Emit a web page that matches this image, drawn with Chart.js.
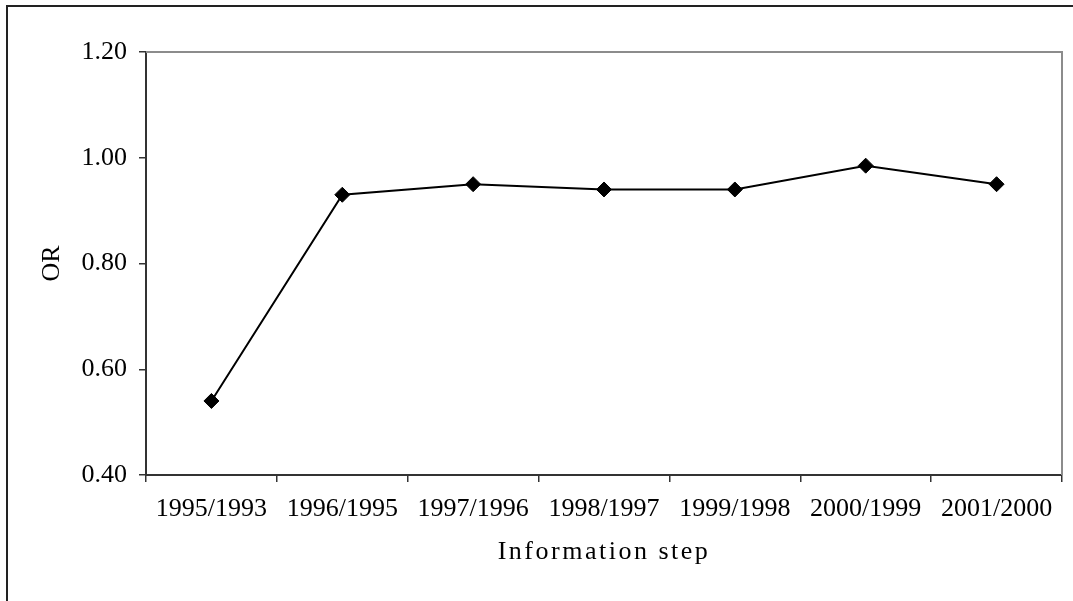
<!DOCTYPE html>
<html>
<head>
<meta charset="utf-8">
<script src="https://cdn.jsdelivr.net/npm/chart.js@4.4.1/dist/chart.umd.min.js"></script>
<style>
  html, body { margin: 0; padding: 0; background: #fff; overflow: hidden; }
  #frame { position: absolute; left: 6px; top: 5px; width: 1200px; height: 700px; border: 2px solid #222; box-sizing: border-box; }
  #wrap { position: absolute; left: 0; top: 0; width: 1073px; height: 601px; }
</style>
</head>
<body>
<div id="frame"></div>
<div id="wrap"><canvas id="c" width="1073" height="601"></canvas></div>
<script>
const categories = ["1995/1993", "1996/1995", "1997/1996", "1998/1997", "1999/1998", "2000/1999", "2001/2000"];
const orValues = [0.54, 0.93, 0.95, 0.94, 0.94, 0.985, 0.95];
const yTicks = [0.40, 0.60, 0.80, 1.00, 1.20];
const yTitle = "OR";
const xTitle = "Information step";

const FONT = "'Liberation Serif', 'Times New Roman', serif";

const plotBorder = {
  id: 'plotBorder',
  beforeDatasetsDraw(chart) {
    const {ctx, chartArea: a} = chart;
    ctx.save();
    ctx.strokeStyle = '#8c8c8c';
    ctx.lineWidth = 2;
    ctx.beginPath();
    ctx.moveTo(a.left, a.top);
    ctx.lineTo(a.right, a.top);
    ctx.lineTo(a.right, a.bottom);
    ctx.stroke();
    ctx.restore();
  },
  beforeDraw(chart) {
    const s = chart.scales.x;
    if (s && !s._spacedTitle) {
      const orig = s.drawTitle.bind(s);
      s.drawTitle = function () {
        chart.ctx.save();
        chart.ctx.letterSpacing = '2.5px';
        orig();
        chart.ctx.restore();
      };
      s._spacedTitle = true;
    }
  }
};

new Chart(document.getElementById('c'), {
  type: 'line',
  data: {
    labels: categories,
    datasets: [{
      data: orValues,
      borderColor: '#000',
      borderWidth: 2,
      pointStyle: 'rectRot',
      pointRadius: 7.5,
      pointBackgroundColor: '#000',
      pointBorderColor: '#000',
      pointBorderWidth: 1,
      tension: 0,
      fill: false
    }]
  },
  plugins: [plotBorder],
  options: {
    responsive: false,
    animation: false,
    events: [],
    layout: { padding: { left: 0, top: 52, right: 11, bottom: 0 } },
    plugins: { legend: { display: false }, tooltip: { enabled: false } },
    scales: {
      x: {
        type: 'category',
        offset: true,
        grid: { offset: true, drawOnChartArea: false, drawTicks: true, tickLength: 7, color: '#333', lineWidth: 1.5 },
        border: { display: true, color: '#333', width: 2 },
        ticks: { color: '#000', font: { family: FONT, size: 26 }, padding: 12, maxRotation: 0, autoSkip: false },
        title: { display: true, text: xTitle, color: '#000', font: { family: FONT, size: 26 }, padding: { top: 0, bottom: 33 } },
        afterFit(scale) { scale.height = 126; }
      },
      y: {
        min: 0.4,
        max: 1.2,
        afterBuildTicks(scale) { scale.ticks = yTicks.map(v => ({ value: v })); },
        grid: { drawOnChartArea: false, drawTicks: true, tickLength: 7, color: '#333', lineWidth: 1.5 },
        border: { display: true, color: '#333', width: 2 },
        ticks: { color: '#000', font: { family: FONT, size: 26 }, padding: 12, callback: v => Number(v).toFixed(2) },
        title: { display: true, text: yTitle, color: '#000', font: { family: FONT, size: 26 }, padding: { top: 37, bottom: 0 } },
        afterFit(scale) { scale.width = 146; }
      }
    }
  }
});
</script>
</body>
</html>
